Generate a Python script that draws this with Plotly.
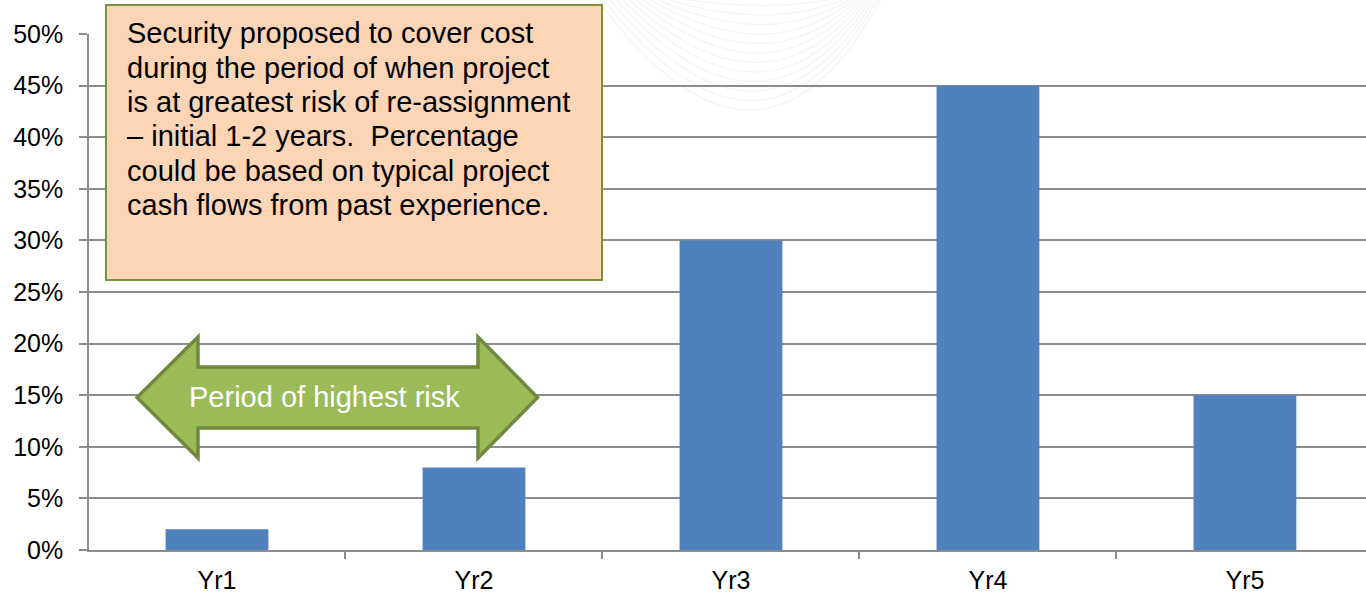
import plotly.graph_objects as go

categories = ["Yr1", "Yr2", "Yr3", "Yr4", "Yr5"]
values = [0.02, 0.08, 0.30, 0.45, 0.15]

note_lines = [
    "Security proposed to cover cost",
    "during the period of when project",
    "is at greatest risk of re-assignment",
    "\u2013 initial 1-2 years.  Percentage",
    "could be based on typical project",
    "cash flows from past experience.",
]
arrow_text = "Period of highest risk"

W, H = 1366, 595
L, R, T, B = 89, 0, 34, 45
PW, PH = W - L - R, H - T - B


def px(x):
    return (x - L) / PW


def py(y):
    return (H - B - y) / PH


FONT = "Liberation Sans, Arial, sans-serif"
GRID = "#8c8c8c"

fig = go.Figure()
fig.add_trace(go.Bar(x=categories, y=values, marker=dict(color="#4F81BD", line=dict(width=0)),
                     width=0.4))

shapes = []
# faint background watermark arcs
for k in range(12):
    x0, x1 = 660 - 6 * k, 850 + 3 * k
    bottom = 8 + 9.5 * k
    cx = 772 - 1.0 * k
    p = (f"M {px(x0):.5f},{py(-5):.5f} Q {px(cx):.5f},{py(2 * bottom):.5f} "
         f"{px(x1):.5f},{py(-5):.5f}")
    shapes.append(dict(type="path", xref="paper", yref="paper", path=p,
                       line=dict(color="#f3f3f3", width=1.2), layer="below"))
# Note box
shapes.append(dict(type="rect", xref="paper", yref="paper",
                   x0=px(106), x1=px(602), y0=py(280), y1=py(5),
                   fillcolor="#FBD5B5", line=dict(color="#77933C", width=2), layer="above"))
# Double arrow
pts = [(137, 397.5), (198, 337), (198, 367), (478, 367), (478, 337), (537.5, 397.5),
       (478, 458), (478, 428), (198, 428), (198, 458)]
path = "M " + " L ".join(f"{px(a):.5f},{py(b):.5f}" for a, b in pts) + " Z"
shapes.append(dict(type="path", xref="paper", yref="paper", path=path,
                   fillcolor="#9BBB59", line=dict(color="#71893F", width=3.5), layer="above"))

annotations = []
for i, t in enumerate(note_lines):
    annotations.append(dict(xref="paper", yref="paper", x=px(125), y=py(33.3 + 34.3 * i),
                            xanchor="left", yanchor="middle", text=t, showarrow=False,
                            font=dict(family=FONT, size=29, color="#000000")))
annotations.append(dict(xref="paper", yref="paper", x=px(324), y=py(396.7),
                        xanchor="center", yanchor="middle", text=arrow_text, showarrow=False,
                        font=dict(family=FONT, size=29, color="#FFFFFF")))

fig.update_layout(
    width=W, height=H,
    margin=dict(l=L, r=R, t=T, b=B, pad=0),
    paper_bgcolor="white", plot_bgcolor="rgba(0,0,0,0)",
    showlegend=False,
    shapes=shapes, annotations=annotations,
    font=dict(family=FONT, size=25, color="#000000"),
    bargap=0.6,
)
fig.update_xaxes(type="category", range=[-0.498, 4.471], showgrid=False,
                 showline=True, linecolor=GRID, linewidth=1.5,
                 ticks="outside", tickson="boundaries", ticklen=7, tickcolor=GRID, tickwidth=1.5,
                 tickfont=dict(size=25), ticklabelstandoff=7)
fig.update_yaxes(range=[0, 0.5], dtick=0.05, tickformat=".0%",
                 showgrid=True, gridcolor=GRID, gridwidth=2,
                 showline=True, linecolor=GRID, linewidth=1.5,
                 ticks="outside", ticklen=8, tickcolor=GRID, tickwidth=1.5,
                 tickfont=dict(size=25), ticklabelstandoff=11, zeroline=False)

fig.write_html("out.html")
